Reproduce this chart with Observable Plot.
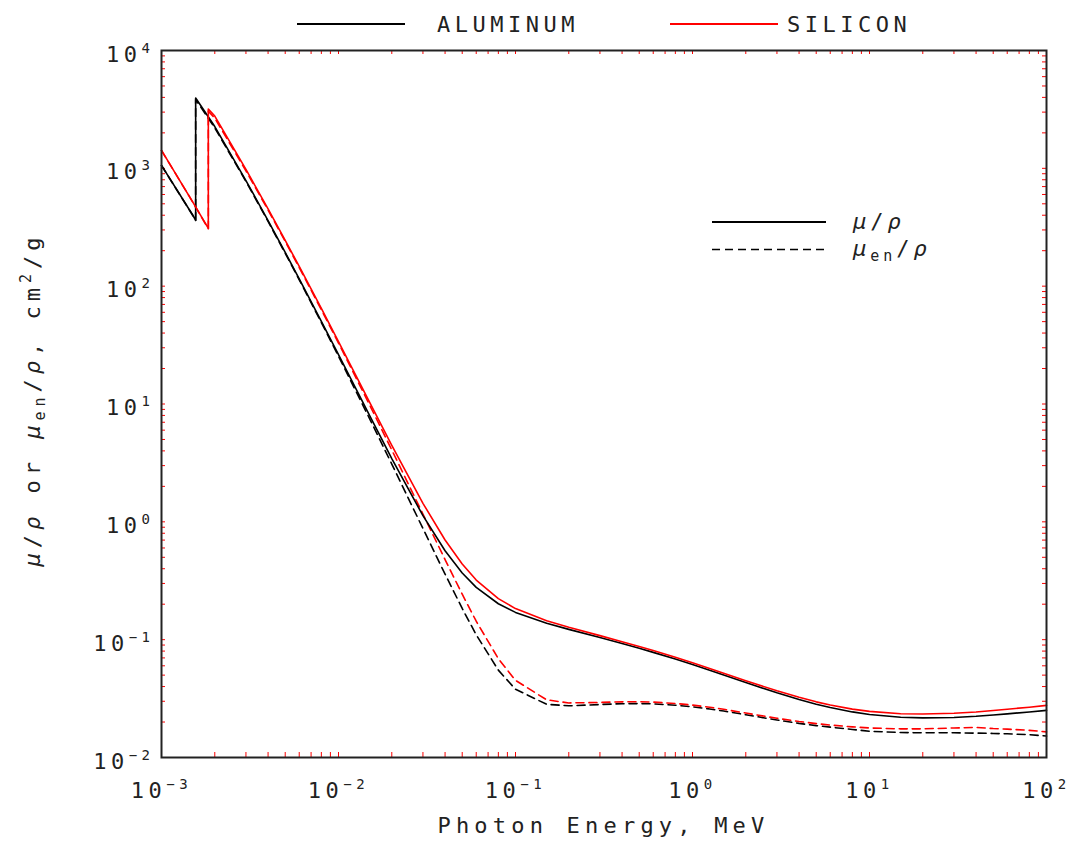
<!DOCTYPE html>
<html><head><meta charset="utf-8">
<script src="https://cdn.jsdelivr.net/npm/d3@7"></script>
<script src="https://cdn.jsdelivr.net/npm/@observablehq/plot@0.6"></script>
<style>
html,body{margin:0;padding:0;background:#fff;}
#chart svg text{letter-spacing:4.5px;}
</style></head><body><div id="chart"></div>
<script>
// ---- data (photon energy in MeV, coefficients in cm2/g) ----
const energyAl = [0.001, 0.0015, 0.0015596, 0.0015596, 0.002, 0.003, 0.004, 0.005, 0.006, 0.008, 0.01, 0.015, 0.02, 0.03, 0.04, 0.05, 0.06, 0.08, 0.1, 0.15, 0.2, 0.3, 0.4, 0.5, 0.6, 0.8, 1, 1.25, 1.5, 2, 3, 4, 5, 6, 8, 10, 15, 20, 30, 40, 50, 60, 80, 100];
const muAl = [1060, 402, 362, 3957, 2263, 788, 360.5, 193.4, 115.3, 50.33, 26.23, 7.955, 3.441, 1.128, 0.5685, 0.3681, 0.2778, 0.2018, 0.1704, 0.1378, 0.1223, 0.1042, 0.09276, 0.08445, 0.07802, 0.06841, 0.06146, 0.05496, 0.05006, 0.04324, 0.03541, 0.03106, 0.02836, 0.02655, 0.02437, 0.02318, 0.02195, 0.02168, 0.02187, 0.02237, 0.02294, 0.02346, 0.02436, 0.02512];
const muenAl = [1058, 400, 360, 3829, 2204, 773.2, 354.5, 190.2, 113.3, 49.18, 25.43, 7.487, 3.094, 0.8778, 0.3601, 0.184, 0.1099, 0.05511, 0.03794, 0.02827, 0.02745, 0.02816, 0.02862, 0.02868, 0.02851, 0.02778, 0.0269, 0.02582, 0.02478, 0.02307, 0.0208, 0.01947, 0.01864, 0.0181, 0.0173, 0.0167, 0.0163, 0.0162, 0.0162, 0.0161, 0.016, 0.0159, 0.0156, 0.0152];
const energySi = [0.001, 0.0015, 0.0018389, 0.0018389, 0.002, 0.003, 0.004, 0.005, 0.006, 0.008, 0.01, 0.015, 0.02, 0.03, 0.04, 0.05, 0.06, 0.08, 0.1, 0.15, 0.2, 0.3, 0.4, 0.5, 0.6, 0.8, 1, 1.25, 1.5, 2, 3, 4, 5, 6, 8, 10, 15, 20, 30, 40, 50, 60, 80, 100];
const muSi = [1420, 520, 309.2, 3192, 2777, 978.4, 452.9, 245, 147, 64.68, 33.89, 10.34, 4.464, 1.436, 0.7012, 0.4385, 0.3207, 0.2228, 0.1835, 0.1448, 0.1275, 0.1082, 0.09614, 0.08748, 0.08077, 0.07082, 0.06361, 0.05688, 0.05183, 0.0448, 0.03678, 0.0324, 0.02967, 0.02788, 0.02574, 0.02462, 0.02352, 0.02338, 0.02373, 0.02434, 0.02505, 0.02569, 0.02673, 0.02767];
const muenSi = [1418, 518, 307, 3059, 2669, 951.6, 442.7, 240, 143.9, 63.13, 32.89, 9.794, 4.076, 1.164, 0.4782, 0.243, 0.1434, 0.06896, 0.04513, 0.03086, 0.02905, 0.02932, 0.02968, 0.02971, 0.02951, 0.02875, 0.02783, 0.0267, 0.02565, 0.02384, 0.02152, 0.0202, 0.01939, 0.01886, 0.0182, 0.0178, 0.0175, 0.0175, 0.0178, 0.018, 0.0176, 0.0174, 0.017, 0.0165];

const materials = ["ALUMINUM", "SILICON"];
const materialColors = ["#000000", "#ff0000"];
const xTickExponents = [-3, -2, -1, 0, 1, 2];
const yTickExponents = [-2, -1, 0, 1, 2, 3, 4];
const minorMultipliers = [1, 2, 3, 4, 5, 6, 7, 8, 9];
const xTitle = "Photon Energy, MeV";

// ---- layout ----
const W = 1076, H = 841;
const mL = 161, mR = 30, mT = 50, mB = 84;
const frameW = W - mL - mR, frameH = H - mT - mB;
const FONT = "'DejaVu Sans Mono', 'Liberation Mono', monospace";
const INK = "#222";

const rows = (E, V, material) => E.map((e, i) => ({E: e, v: V[i], material}));
const solidRows = [...rows(energyAl, muAl, materials[0]), ...rows(energySi, muSi, materials[1])];
const dashedRows = [...rows(energyAl, muenAl, materials[0]), ...rows(energySi, muenSi, materials[1])];

const decades = (exps) => exps.slice(0, -1).flatMap(e => minorMultipliers.map(m => +(m * Math.pow(10, e)).toPrecision(6))).concat([Math.pow(10, exps[exps.length - 1])]);
const xMinor = decades(xTickExponents);
const yMinor = decades(yTickExponents);
const xMajor = xTickExponents.map(e => Math.pow(10, e));
const yMajor = yTickExponents.map(e => Math.pow(10, e));
const fmt = d => "10|" + String(Math.round(Math.log10(d))).replace("-", "\u2212");

const chart = Plot.plot({
  width: W, height: H,
  marginLeft: mL, marginRight: mR, marginTop: mT, marginBottom: mB,
  x: {type: "log", domain: [1e-3, 1e2]},
  y: {type: "log", domain: [1e-2, 1e4]},
  color: {domain: materials, range: materialColors},
  style: {fontFamily: FONT, background: "#fff", color: INK},
  marks: [
    Plot.tickX(xMinor, {x: d => d, stroke: "#ff0000", strokeWidth: 1, insetTop: frameH - 5}),
    Plot.tickX(xMinor, {x: d => d, stroke: "#ff0000", strokeWidth: 1, insetBottom: frameH - 4}),
    Plot.tickY(yMinor, {y: d => d, stroke: "#ff0000", strokeWidth: 1, insetRight: frameW - 4}),
    Plot.tickY(yMinor, {y: d => d, stroke: "#ff0000", strokeWidth: 1, insetLeft: frameW - 4}),
    Plot.line(dashedRows, {x: "E", y: "v", z: "material", stroke: "material", strokeWidth: 1.6, strokeDasharray: "8,5"}),
    Plot.line(solidRows, {x: "E", y: "v", z: "material", stroke: "material", strokeWidth: 1.6}),
    Plot.frame({stroke: "#222", strokeWidth: 2}),
    Plot.axisX(xMajor, {anchor: "bottom", tickSize: 0, tickPadding: 25, tickFormat: fmt, fontSize: 22, label: null}),
    Plot.axisY(yMajor, {anchor: "left", tickSize: 0, tickPadding: 7, tickFormat: fmt, fontSize: 22, dy: 4, label: null})
  ]
});
document.getElementById("chart").appendChild(chart);

const svg = d3.select(chart);
// superscript tick labels
svg.selectAll('g[aria-label$="tick label"] text').each(function() {
  const s = this.textContent;
  if (!s.includes("|")) return;
  const [base, exp] = s.split("|");
  const t = d3.select(this);
  t.text(null);
  t.append("tspan").text(base);
  t.append("tspan").attr("dy", -9).attr("font-size", 14).text(exp);
});

// top legend
const topLegend = svg.append("g").attr("font-family", FONT).attr("font-size", 22).attr("fill", INK).attr("text-anchor", "start");
topLegend.append("line").attr("x1", 297).attr("x2", 405).attr("y1", 24).attr("y2", 24).attr("stroke", materialColors[0]).attr("stroke-width", 2);
topLegend.append("text").attr("x", 437).attr("y", 32).style("letter-spacing", "4.5px").text(materials[0]);
topLegend.append("line").attr("x1", 670).attr("x2", 778).attr("y1", 24).attr("y2", 24).attr("stroke", materialColors[1]).attr("stroke-width", 2);
topLegend.append("text").attr("x", 787).attr("y", 32).style("letter-spacing", "4.5px").text(materials[1]);

// inner legend (line styles)
const inner = svg.append("g").attr("font-family", FONT).attr("font-size", 22).attr("fill", INK).attr("text-anchor", "start");
inner.append("line").attr("x1", 712).attr("x2", 826).attr("y1", 222).attr("y2", 222).attr("stroke", "#000").attr("stroke-width", 1.8);
inner.append("line").attr("x1", 712).attr("x2", 826).attr("y1", 249.5).attr("y2", 249.5).attr("stroke", "#000").attr("stroke-width", 1.6).attr("stroke-dasharray", "8,5");
const l1 = inner.append("text").attr("x", 853).attr("y", 229).style("letter-spacing", "4px");
l1.append("tspan").attr("font-style", "italic").text("\u03bc");
l1.append("tspan").text("/");
l1.append("tspan").attr("font-style", "italic").text("\u03c1");
const l2 = inner.append("text").attr("x", 853).attr("y", 256).style("letter-spacing", "4px");
l2.append("tspan").attr("font-style", "italic").text("\u03bc");
l2.append("tspan").attr("font-size", 15).attr("dy", 5).text("en");
l2.append("tspan").attr("dy", -5).text("/");
l2.append("tspan").attr("font-style", "italic").text("\u03c1");

// axis titles
svg.append("text").attr("x", mL + frameW / 2).attr("y", 833).attr("text-anchor", "middle")
  .attr("font-family", FONT).attr("font-size", 22).attr("fill", INK).style("letter-spacing", "5.2px").text(xTitle);

const yt = svg.append("text").attr("transform", `translate(40,${mT + frameH / 2 - 4}) rotate(-90)`).attr("text-anchor", "middle")
  .attr("font-family", FONT).attr("font-size", 22).attr("fill", INK).style("letter-spacing", "5px");
yt.append("tspan").attr("font-style", "italic").text("\u03bc");
yt.append("tspan").text("/");
yt.append("tspan").attr("font-style", "italic").text("\u03c1");
yt.append("tspan").text(" or ");
yt.append("tspan").attr("font-style", "italic").text("\u03bc");
yt.append("tspan").attr("font-size", 15).attr("dy", 5).text("en");
yt.append("tspan").attr("dy", -5).text("/");
yt.append("tspan").attr("font-style", "italic").text("\u03c1");
yt.append("tspan").text(", cm");
yt.append("tspan").attr("font-size", 15).attr("dy", -9).text("2");
yt.append("tspan").attr("dy", 9).text("/g");
</script></body></html>
